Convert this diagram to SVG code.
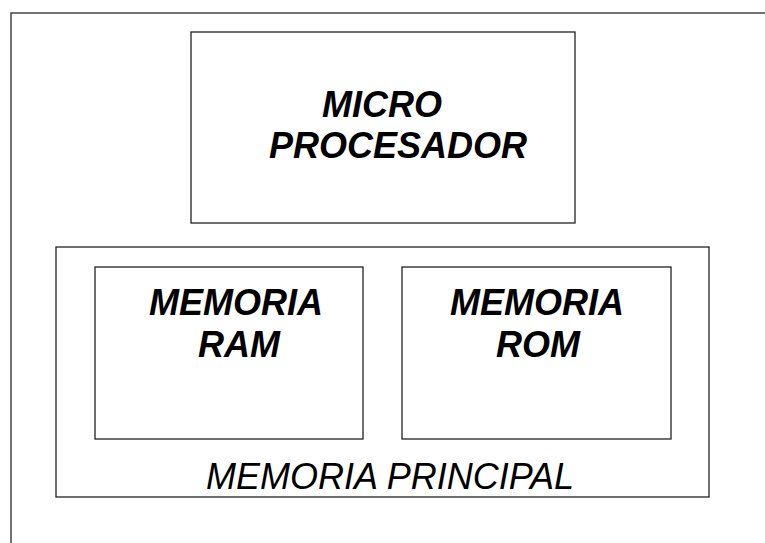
<svg xmlns="http://www.w3.org/2000/svg" width="765" height="543" viewBox="0 0 765 543">
<style>
.box{fill:none;stroke:#222;stroke-width:1.3}
.frame{fill:none;stroke:#444;stroke-width:1.5}
.bt{font-family:"Liberation Sans",Arial,sans-serif;font-size:36px;font-weight:bold;font-style:italic;fill:#000}
.nt{font-family:"Liberation Sans",Arial,sans-serif;font-size:36px;font-style:italic;fill:#000}
</style>
<rect width="765" height="543" fill="#fff"/>
<polyline class="frame" points="11,543 11,13 765,13"/>
<g id="microprocesador">
<rect class="box" x="191" y="32" width="384" height="191"/>
<text class="bt" x="322" y="117">MICRO</text>
<text class="bt" x="269" y="158">PROCESADOR</text>
</g>
<g id="memoria-principal">
<rect class="box" x="56" y="247" width="653" height="250"/>
<text class="nt" x="206" y="489">MEMORIA PRINCIPAL</text>
</g>
<g id="memoria-ram">
<rect class="box" x="95" y="267" width="268" height="172"/>
<text class="bt" x="149" y="315">MEMORIA</text>
<text class="bt" x="198" y="357">RAM</text>
</g>
<g id="memoria-rom">
<rect class="box" x="402" y="267" width="269" height="172"/>
<text class="bt" x="450" y="315">MEMORIA</text>
<text class="bt" x="496" y="357">ROM</text>
</g>
<g id="connectors"></g>
</svg>
